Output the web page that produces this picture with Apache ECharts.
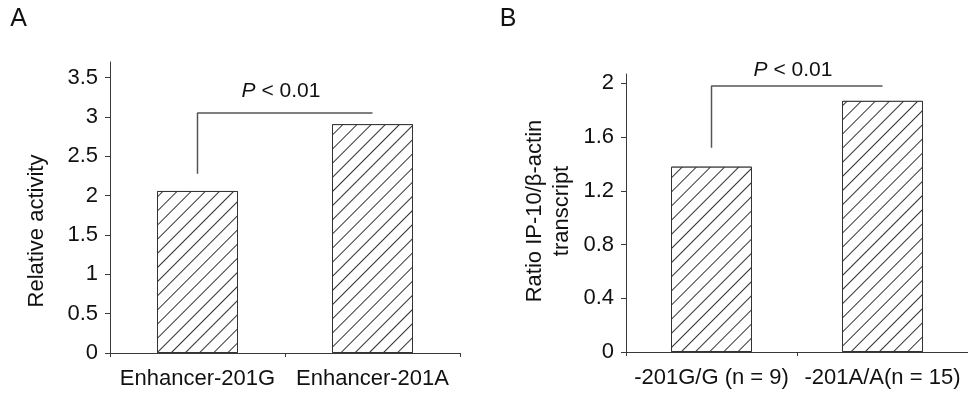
<!DOCTYPE html>
<html>
<head>
<meta charset="utf-8">
<script src="https://cdn.jsdelivr.net/npm/echarts@6/dist/echarts.min.js"></script>
<style>
html,body{margin:0;padding:0;background:#fff;}
#chart{width:968px;height:396px;}
</style>
</head>
<body>
<div id="chart"></div>
<script>
// Panel A data
const categoriesA = ['Enhancer-201G', 'Enhancer-201A'];
const valuesA = [2.06, 2.91];
const yTicksA = [0, 0.5, 1, 1.5, 2, 2.5, 3, 3.5];
const yMaxA = 3.7;
const bracketA = [3.05, 2.28];   // [bar level, left leg bottom]
const pLevelA = 3.33;

// Panel B data
const categoriesB = ['-201G/G (n = 9)', '-201A/A(n = 15)'];
const valuesB = [1.38, 1.87];
const yTicksB = [0, 0.4, 0.8, 1.2, 1.6, 2];
const yMaxB = 2.07;
const bracketB = [1.98, 1.52];
const pLevelB = 2.10;

const FONT = '"Liberation Sans", Arial, Helvetica, sans-serif';
const AXIS = '#3a3a3a';
const TXT = '#111';

const chart = echarts.init(document.getElementById('chart'), null, {renderer: 'canvas'});

const hatch = {
  symbol: 'rect',
  symbolSize: 1,
  dashArrayX: [1, 0],
  dashArrayY: [1, 8.5],
  rotation: -Math.PI / 4,
  color: '#333',
  backgroundColor: '#fff'
};

function xAxisCfg(idx, cats) {
  return {
    type: 'category', gridIndex: idx, data: cats,
    axisLine: {lineStyle: {color: AXIS, width: 1}},
    axisTick: {show: true, length: 4, lineStyle: {color: AXIS}},
    axisLabel: {interval: 0, margin: 15, color: TXT, fontSize: 22, fontFamily: FONT},
    splitLine: {show: false}
  };
}
function yAxisCfg(idx, max, ticks, interval) {
  return {
    type: 'value', gridIndex: idx, min: 0, max: max, interval: interval,
    axisLine: {show: true, lineStyle: {color: AXIS, width: 1}},
    axisTick: {show: true, length: 5, customValues: ticks, lineStyle: {color: AXIS}},
    axisLabel: {margin: 12, color: TXT, fontSize: 22, fontFamily: FONT, customValues: ticks},
    splitLine: {show: false}
  };
}
function barSeries(idx, vals) {
  return {
    type: 'bar', xAxisIndex: idx, yAxisIndex: idx, data: vals, barWidth: 81,
    itemStyle: {color: '#fff', borderColor: '#333', borderWidth: 1, decal: hatch},
    emphasis: {disabled: true}, silent: true
  };
}
function bracketSeries(idx, cats, br) {
  return {
    type: 'line', xAxisIndex: idx, yAxisIndex: idx, symbol: 'none', silent: true,
    lineStyle: {color: '#555', width: 1.5},
    data: [[cats[0], br[1]], [cats[0], br[0]], [cats[1], br[0]]],
    z: 5
  };
}

chart.setOption({
  backgroundColor: '#fff',
  animation: false,
  grid: [
    {left: 110, top: 62, width: 350, height: 291},
    {left: 626, top: 74, width: 344, height: 278}
  ],
  xAxis: [xAxisCfg(0, categoriesA), xAxisCfg(1, categoriesB)],
  yAxis: [yAxisCfg(0, yMaxA, yTicksA, 0.5), yAxisCfg(1, yMaxB, yTicksB, 0.4)],
  series: [
    barSeries(0, valuesA), barSeries(1, valuesB),
    bracketSeries(0, categoriesA, bracketA), bracketSeries(1, categoriesB, bracketB)
  ]
});

function pText(gridIdx, cats, level) {
  const p0 = chart.convertToPixel({gridIndex: gridIdx}, [cats[0], level]);
  const p1 = chart.convertToPixel({gridIndex: gridIdx}, [cats[1], level]);
  return {
    type: 'text', x: (p0[0] + p1[0]) / 2 - 4, y: p0[1],
    style: {
      text: '{i|P}{n| < 0.01}',
      rich: {
        i: {fontStyle: 'italic', fontSize: 21, fontFamily: FONT, fill: TXT},
        n: {fontSize: 21, fontFamily: FONT, fill: TXT}
      },
      align: 'center', verticalAlign: 'middle'
    }
  };
}

chart.setOption({
  graphic: [
    {type: 'text', x: 18.5, y: 19, style: {text: 'A', font: '25px ' + FONT, fill: TXT, align: 'center', verticalAlign: 'middle'}},
    {type: 'text', x: 508, y: 19, style: {text: 'B', font: '25px ' + FONT, fill: TXT, align: 'center', verticalAlign: 'middle'}},
    {type: 'text', x: 37, y: 231, rotation: Math.PI / 2,
      style: {text: 'Relative activity', font: '22px ' + FONT, fill: TXT, align: 'center', verticalAlign: 'middle'}},
    {type: 'text', x: 548.5, y: 211, rotation: Math.PI / 2,
      style: {text: 'Ratio IP-10/β-actin\ntranscript', font: '22px ' + FONT, lineHeight: 27, fill: TXT, align: 'center', verticalAlign: 'middle'}},
    pText(0, categoriesA, pLevelA),
    pText(1, categoriesB, pLevelB)
  ]
});
</script>
</body>
</html>
